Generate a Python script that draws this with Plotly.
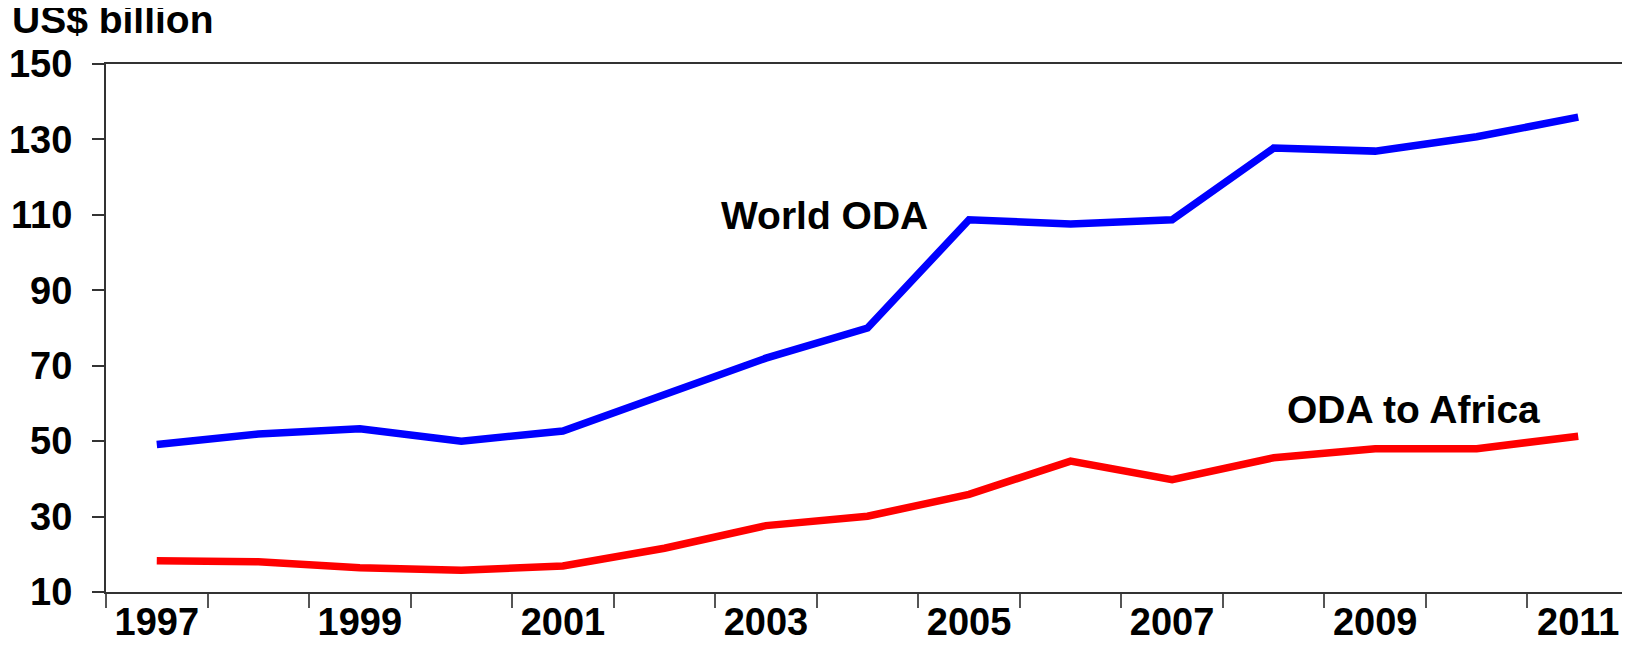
import plotly.graph_objects as go

years = list(range(1997, 2012))
world_oda = [49.1, 51.9, 53.3, 50.0, 52.7, 62.4, 72.0, 80.0, 108.7, 107.6, 108.7, 127.7, 126.9, 130.7, 135.9]
africa_oda = [18.3, 18.0, 16.4, 15.8, 16.9, 21.6, 27.6, 30.1, 35.9, 44.7, 39.8, 45.6, 48.0, 48.0, 51.3]
x_labels = [1997, 1999, 2001, 2003, 2005, 2007, 2009, 2011]
y_ticks = [10, 30, 50, 70, 90, 110, 130, 150]

FONT = "Liberation Sans, Arial, sans-serif"
SIZE = 39
TICK_SIZE = 38

fig = go.Figure()
fig.add_trace(go.Scatter(x=years, y=world_oda, mode="lines", name="World ODA",
                         line=dict(color="#0000ff", width=7.5)))
fig.add_trace(go.Scatter(x=years, y=africa_oda, mode="lines", name="ODA to Africa",
                         line=dict(color="#ff0000", width=7.5)))

# page body has an 8px margin, so the figure is a bit smaller than the window
fig.update_layout(
    width=1622, height=637,
    margin=dict(l=98, r=1, t=56, b=53, autoexpand=False),
    plot_bgcolor="white", paper_bgcolor="white",
    showlegend=False,
    font=dict(family=FONT, size=SIZE, color="black", weight="bold"),
    annotations=[
        dict(text="US$ billion", xref="paper", yref="paper", x=-0.063, y=1.084,
             xanchor="left", yanchor="middle", showarrow=False,
             font=dict(family=FONT, size=SIZE, weight="bold")),
        dict(text="World ODA", xref="x", yref="y", x=2003.58, y=109.8,
             showarrow=False, font=dict(family=FONT, size=SIZE, weight="bold")),
        dict(text="ODA to Africa", xref="x", yref="y", x=2009.38, y=58.5,
             showarrow=False, font=dict(family=FONT, size=SIZE, weight="bold")),
    ],
)

fig.update_xaxes(
    range=[1996.5, 2011.5], automargin=False,
    tickmode="array", tickvals=x_labels, ticktext=[str(v) for v in x_labels],
    ticks="", ticklabelstandoff=-5,
    tickfont=dict(family=FONT, size=TICK_SIZE, weight="bold"),
    showgrid=False, zeroline=False,
    showline=True, linecolor="#333333", linewidth=2, mirror=True,
    minor=dict(tickmode="linear", tick0=1996.5, dtick=1, ticks="outside",
               ticklen=14, tickcolor="#555555", tickwidth=1.5, showgrid=False),
)
fig.update_yaxes(
    range=[10, 150], automargin=False,
    tickmode="array", tickvals=y_ticks,
    ticks="outside", ticklen=12, tickcolor="#333333", tickwidth=1.5,
    ticklabelstandoff=12,
    tickfont=dict(family=FONT, size=TICK_SIZE, weight="bold"),
    showgrid=False, zeroline=False,
    showline=True, linecolor="#333333", linewidth=2, mirror=True,
)

fig.write_html("out.html")
